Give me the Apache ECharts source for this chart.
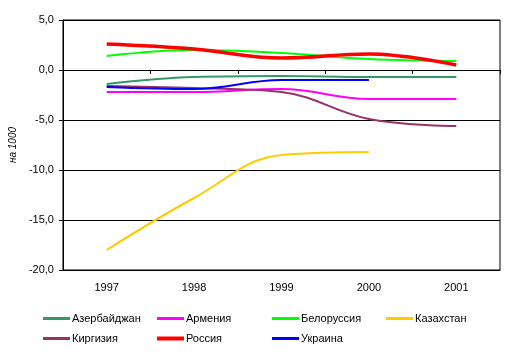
<!DOCTYPE html>
<html><head><meta charset="utf-8">
<script src="https://cdn.jsdelivr.net/npm/echarts@6/dist/echarts.min.js"></script>
<style>html,body{margin:0;padding:0;background:#fff}#c{width:515px;height:358px}</style>
</head><body><div id="c"></div>
<script>
var years = ['1997','1998','1999','2000','2001'];
var yTicks = [5, 0, -5, -10, -15, -20];
var azerbaijan = [-1.4, -0.7, -0.6, -0.7, -0.7];
var armenia    = [-2.2, -2.2, -1.9, -2.9, -2.9];
var belarus    = [1.4, 2.0, 1.7, 1.1, 0.9];
var kazakhstan = [-18.0, -12.8, -8.5, -8.2, null];
var kyrgyzstan = [-1.6, -1.8, -2.2, -4.9, -5.6];
var russia     = [2.6, 2.1, 1.2, 1.6, 0.5];
var ukraine    = [-1.7, -1.9, -1.0, -1.0, null];

var names  = ['Азербайджан','Армения','Белоруссия','Казахстан','Киргизия','Россия','Украина'];
var values = [azerbaijan, armenia, belarus, kazakhstan, kyrgyzstan, russia, ukraine];
var colors = ['#339966','#ff00ff','#00ff00','#ffcc00','#993366','#ff0000','#0000ff'];
var widths = [2,2,2,2,2,3.5,2];
var legendPos = [[43,313],[157,313],[272,313],[386,313],[43,333],[157,333],[272,333]];

var font = 'Liberation Sans, Arial, sans-serif';
var chart = echarts.init(document.getElementById('c'), null, {renderer:'canvas'});
var series = names.map(function(n,i){
  return {name:n, type:'line', data:values[i], smooth:0.4, symbol:'none',
    lineStyle:{color:colors[i], width:widths[i]}, itemStyle:{color:colors[i]},
    connectNulls:false, animation:false, z:10};
});
var legends = names.map(function(n,i){
  return {data:[n], left:legendPos[i][0], top:legendPos[i][1], icon:'rect',
    itemWidth:27, itemHeight:(i===5?4:3), itemGap:0, padding:0,
    textStyle:{fontFamily:font, fontSize:11, color:'#000', padding:[0,0,0,-3]}};
});
chart.setOption({
  animation:false,
  legend: legends,
  grid:{left:58, right:15, top:20, bottom:88, show:true, borderColor:'#000', borderWidth:1},
  xAxis:[
    {type:'category', data:years, boundaryGap:true, position:'bottom',
     axisLine:{onZero:false, lineStyle:{color:'#000'}}, axisTick:{show:false},
     axisLabel:{fontFamily:font, fontSize:11, color:'#000', margin:12}},
    {type:'category', data:years, boundaryGap:true, position:'bottom',
     axisLine:{onZero:true, lineStyle:{color:'#000'}},
     axisTick:{show:true, inside:false, length:4, lineStyle:{color:'#000'}},
     axisLabel:{show:false}}
  ],
  yAxis:{type:'value', min:-20, max:5, interval:5,
    name:'на 1000', nameLocation:'middle', nameGap:38, nameRotate:90,
    nameTextStyle:{fontFamily:font, fontSize:10, fontStyle:'italic', color:'#000'},
    axisLine:{show:true, lineStyle:{color:'#000'}},
    axisTick:{show:true, length:4, lineStyle:{color:'#000'}},
    splitLine:{lineStyle:{color:'#000', width:1}},
    axisLabel:{fontFamily:font, fontSize:11, color:'#000', margin:9,
      formatter:function(v){return v.toFixed(1).replace('.',',');}}},
  series: series
});
</script></body></html>
